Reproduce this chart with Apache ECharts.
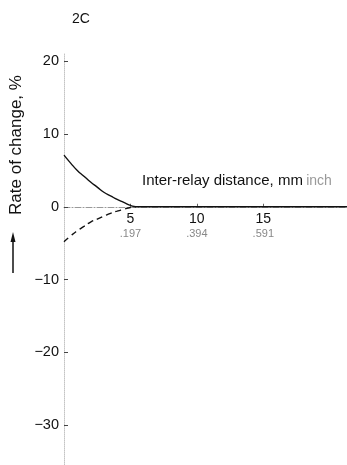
<!DOCTYPE html>
<html><head><meta charset="utf-8">
<script src="https://cdn.jsdelivr.net/npm/echarts@6/dist/echarts.min.js"></script>
<style>html,body{margin:0;padding:0;background:#fff;}#c{width:347px;height:465px;}</style>
</head><body><div id="c"></div>
<script>
const xTicks = [5, 10, 15];
const inchLabels = ['.197', '.394', '.591'];
const yTicks = [20, 10, 0, -10, -20, -30];
const solidX = [0, 0.5, 1, 1.5, 2, 2.5, 3, 3.5, 4, 4.5, 5, 5.4, 21.3];
const solidY = [7.1, 6.0, 5.0, 4.2, 3.4, 2.7, 2.0, 1.5, 1.0, 0.6, 0.2, 0, 0];
const dashedX = [0, 0.5, 1, 1.5, 2, 2.5, 3, 3.5, 4, 4.5, 5, 5.4];
const dashedY = [-4.8, -4.0, -3.3, -2.7, -2.1, -1.7, -1.3, -0.9, -0.6, -0.35, -0.1, 0];
const panelLabel = '2C';
const xName = 'Inter-relay distance, mm';
const xNameUnit = 'inch';
const yName = 'Rate of change, %';

const font = '"Liberation Sans", Arial, sans-serif';
const Y_MIN = -35.5, Y_MAX = 21, GRID_TOP = 54, H = 465;
const plotH = H - GRID_TOP;
const zeroOffset = -(plotH * (0 - Y_MIN) / (Y_MAX - Y_MIN));
const chart = echarts.init(document.getElementById('c'), null, {renderer: 'canvas'});
chart.setOption({
  animation: false,
  backgroundColor: '#fff',
  grid: {left: 64, right: 0, top: GRID_TOP, bottom: 0, containLabel: false, outerBoundsMode: 'none'},
  xAxis: {
    type: 'value', min: 0, max: 21.3, position: 'bottom', offset: zeroOffset,
    axisLine: {onZero: false, lineStyle: {color: '#999', width: 1, type: [6, 2, 1, 2]}},
    axisTick: {show: true, inside: true, length: 3, customValues: xTicks, lineStyle: {color: '#666'}},
    splitLine: {show: false},
    axisLabel: {
      customValues: xTicks, margin: 5, fontFamily: font,
      formatter: function (v) { const i = xTicks.indexOf(v); return '{a|' + v + '}\n{b|' + inchLabels[i] + '}'; },
      rich: {
        a: {fontSize: 14, color: '#111', fontFamily: font, lineHeight: 15},
        b: {fontSize: 11, color: '#888', fontFamily: font, lineHeight: 14}
      }
    }
  },
  yAxis: {
    type: 'value', min: Y_MIN, max: Y_MAX,
    axisLine: {show: true, lineStyle: {color: '#c4c4c4', width: 1, type: 'dotted'}},
    axisTick: {show: true, inside: true, length: 4, customValues: yTicks, lineStyle: {color: '#444'}},
    splitLine: {show: false},
    axisLabel: {
      customValues: yTicks, margin: 5, fontSize: 14.5, color: '#111', fontFamily: font,
      formatter: function (v) { return v < 0 ? '\u2212' + Math.abs(v) : String(v); }
    }
  },
  series: [
    {type: 'line', smooth: 0.6, symbol: 'none',
     data: solidX.map((x, i) => [x, solidY[i]]),
     lineStyle: {color: '#111', width: 1.4}},
    {type: 'line', smooth: 0.6, symbol: 'none',
     data: dashedX.map((x, i) => [x, dashedY[i]]),
     lineStyle: {color: '#111', width: 1.4, type: [6, 4]}}
  ],
  graphic: [
    {type: 'text', x: 72, y: 12, style: {text: panelLabel, fontSize: 14, fill: '#111', fontFamily: font}},
    {type: 'text', x: 142, y: 181, style: {text: '{m|' + xName + '} {u|' + xNameUnit + '}', verticalAlign: 'middle',
      rich: {m: {fontSize: 15, fill: '#111', fontFamily: font}, u: {fontSize: 14, fill: '#999', fontFamily: font}}}},
    {type: 'text', x: 16, y: 145, rotation: Math.PI / 2, style: {text: yName, fontSize: 17, fill: '#111', fontFamily: font, align: 'center', verticalAlign: 'middle'}},
    {type: 'line', shape: {x1: 13, y1: 273, x2: 13, y2: 240}, style: {stroke: '#111', lineWidth: 1.5}},
    {type: 'polygon', shape: {points: [[13, 232], [10.5, 242], [15.5, 242]]}, style: {fill: '#111'}}
  ]
});
</script></body></html>
